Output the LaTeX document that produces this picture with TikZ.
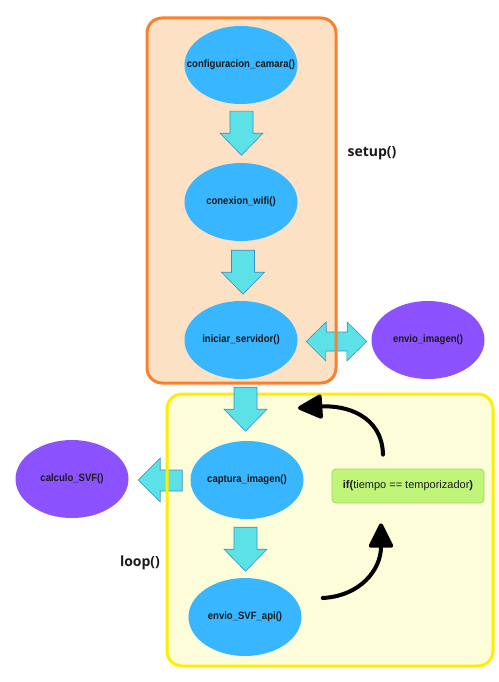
\documentclass[tikz,border=0pt]{standalone}
\usepackage{fontspec}
\setmainfont{Liberation Sans}
\newfontfamily\headfont{Open Sans}
\newfontfamily\labelfont[FakeStretch=0.9]{Liberation Sans}
\usetikzlibrary{arrows.meta,shapes.geometric,calc}

\definecolor{nodeblue}{HTML}{38B6FF}
\definecolor{nodepurple}{HTML}{8C52FF}
\definecolor{arrowcyan}{HTML}{5CE1E6}
\definecolor{arrowedge}{HTML}{3A8FC8}
\definecolor{setupedge}{HTML}{F7812C}
\definecolor{setupfill}{HTML}{FDE1C4}
\definecolor{loopedge}{HTML}{FFEE00}
\definecolor{loopfill}{HTML}{FEFDD9}
\definecolor{condfill}{HTML}{C1F57A}
\definecolor{condedge}{HTML}{9BD865}
\definecolor{labeltext}{HTML}{1A1A1A}

% centred label that does not widen its ellipse
\newcommand{\fnlabel}[1]{\makebox[0pt][c]{#1}}

\tikzset{
  func/.style={ellipse, fill=nodeblue, minimum width=113pt, minimum height=78pt,
    inner sep=0pt, text=labeltext, font=\labelfont\bfseries\fontsize{10.6}{12}\selectfont},
  extfunc/.style={func, fill=nodepurple},
  blockarrow/.style={fill=arrowcyan, draw=arrowedge, line width=0.6pt, line join=miter},
  downblock/.pic={\draw[blockarrow] (-11.5,0) -- (11.5,0) -- (11.5,22) -- (21.5,22)
      -- (0,44) -- (-21.5,22) -- (-11.5,22) -- cycle;},
  grouplabel/.style={font=\headfont\bfseries\fontsize{14}{16}\selectfont, text=labeltext},
  loopcurve/.style={line width=4pt, line cap=round,
    -{Triangle[length=20pt 0 0,width=19pt 0 0,round,scale=1.35]}},
}

\begin{document}
\begin{tikzpicture}[x=1pt,y=-1pt]
  \useasboundingbox (0,0) rectangle (498,682);

  % group backgrounds
  \path[fill=setupfill, rounded corners=15pt] (147,18) rectangle (336,383);
  \path[fill=loopfill, rounded corners=15pt] (167,394) rectangle (493,666);

  % function nodes
  \node[func] (cam)  at (241,65)  {\fnlabel{configuracion\_camara()}};
  \node[func] (wifi) at (241,202) {\fnlabel{conexion\_wifi()}};
  \node[func] (serv) at (241,340) {\fnlabel{iniciar\_servidor()}};
  \node[extfunc] (envimg) at (428,340) {\fnlabel{envio\_imagen()}};
  \node[func] (capt) at (247,480) {\fnlabel{captura\_imagen()}};
  \node[func] (api)  at (245,617) {\fnlabel{envio\_SVF\_api()}};
  \node[extfunc] (svf) at (72,479) {\fnlabel{calculo\_SVF()}};

  % block arrows inside setup()
  \pic at ($(cam.south)+(0.5,7)$) {downblock};
  \pic at ($(wifi.south)+(2,9)$) {downblock};

  % server <-> envio_imagen
  \coordinate (dl) at ($(serv.east)+(8.5,1.5)$);
  \coordinate (dr) at ($(envimg.west)+(-4.5,1.5)$);
  \draw[blockarrow] (dl) -- ++(20,-19.5) -- ++(0,10) -- ++(21,0) -- ++(0,-10)
    -- (dr) -- ++(-20,19.5) -- ++(0,-10) -- ++(-21,0) -- ++(0,10) -- cycle;

  % captura_imagen -> calculo_SVF
  \coordinate (lt) at ($(svf.east)+(9.5,1)$);
  \draw[blockarrow] (lt) -- ++(22,-22) -- ++(0,12) -- ++(22,0) -- ++(0,21)
    -- ++(-22,0) -- ++(0,11) -- cycle;

  % group borders
  \draw[setupedge, line width=3pt, rounded corners=15pt] (147,18) rectangle (336,383);
  \draw[loopedge, line width=3pt, rounded corners=15pt] (167,394) rectangle (493,666);

  % setup() -> loop() and within loop()
  \pic at ($(serv.south)+(4.5,8)$) {downblock};
  \pic at ($(capt.south)+(-1.5,8)$) {downblock};

  % timer condition
  \node[draw=condedge, fill=condfill, line width=0.8pt, rounded corners=4pt,
        minimum width=152pt, minimum height=34pt, inner sep=0pt,
        font=\fontsize{11}{13}\selectfont, text=labeltext]
        (cond) at (408,486) {\textbf{if(}tiempo == temporizador\textbf{)}};

  % loop return arrows
  \coordinate (up0) at ($(cond.north)+(-25,-14)$);
  \coordinate (up1) at (298,408);
  \draw[loopcurve] (up0) .. controls (382,415) and (345,405) .. (up1);
  \coordinate (lo0) at ($(api.east)+(21,-19)$);
  \coordinate (lo1) at ($(cond.south)+(-27,20)$);
  \draw[loopcurve] (lo0) .. controls (360,596) and (381,570) .. (lo1);

  % group labels
  \node[grouplabel] (setuplbl) at (372,153) {setup()};
  \node[grouplabel] (looplbl)  at (140,563) {loop()};
\end{tikzpicture}
\end{document}
